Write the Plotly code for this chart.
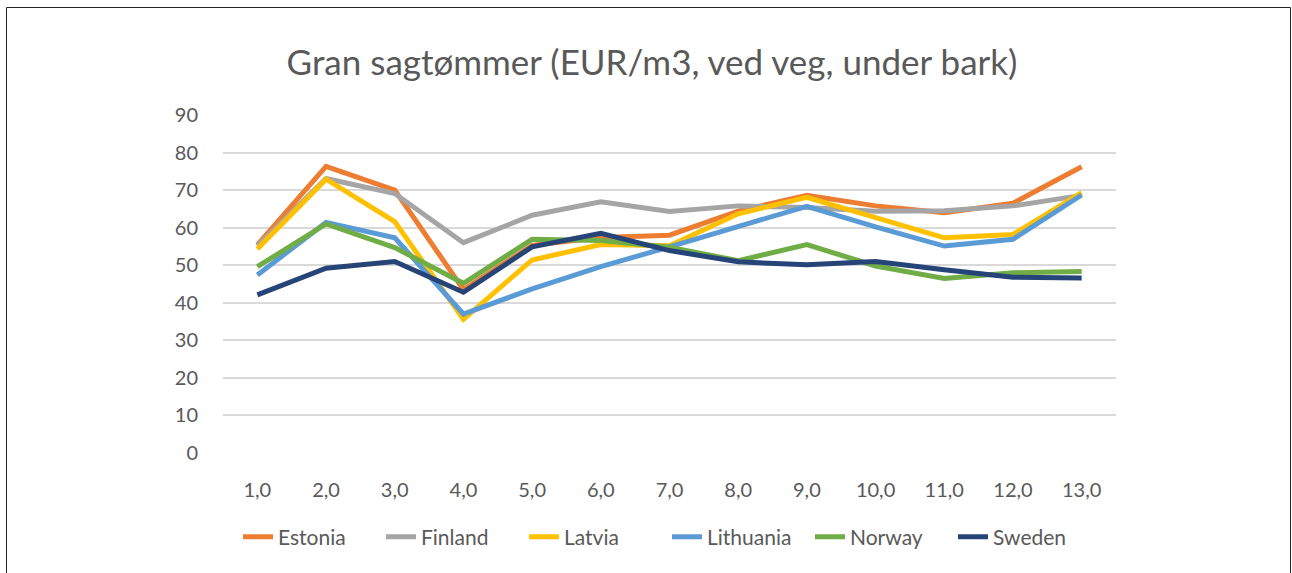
import plotly.graph_objects as go

x_vals = [1, 2, 3, 4, 5, 6, 7, 8, 9, 10, 11, 12, 13]
x_labels = ["1,0", "2,0", "3,0", "4,0", "5,0", "6,0", "7,0", "8,0", "9,0", "10,0", "11,0", "12,0", "13,0"]

estonia = [55.4, 76.3, 70.0, 43.5, 55.3, 57.4, 58.0, 64.4, 68.6, 65.8, 64.0, 66.5, 76.2]
finland = [55.1, 73.1, 69.1, 56.0, 63.3, 66.9, 64.3, 65.8, 65.4, 64.4, 64.5, 65.8, 68.6]
latvia = [54.3, 72.9, 61.6, 35.6, 51.4, 55.5, 55.2, 63.7, 68.1, 62.6, 57.3, 58.2, 69.3]
lithuania = [47.4, 61.4, 57.3, 37.0, 43.7, 49.6, 54.9, 60.3, 65.7, 60.2, 55.1, 56.9, 68.7]
norway = [49.6, 61.0, 54.7, 45.2, 56.9, 56.6, 54.8, 51.2, 55.5, 49.8, 46.5, 48.0, 48.3]
sweden = [42.1, 49.2, 51.0, 42.8, 54.9, 58.5, 53.9, 50.9, 50.1, 51.0, 48.8, 46.8, 46.6]

series = [
    ("Estonia", estonia, "#ED7D31"),
    ("Finland", finland, "#A5A5A5"),
    ("Latvia", latvia, "#FFC000"),
    ("Lithuania", lithuania, "#5B9BD5"),
    ("Norway", norway, "#70AD47"),
    ("Sweden", sweden, "#264478"),
]

FONT = "Lato, 'Open Sans', sans-serif"
TXT = "#595959"

fig = go.Figure()
for name, vals, col in series:
    fig.add_trace(go.Scatter(x=x_vals, y=vals, name=name, mode="lines",
                             line=dict(color=col, width=5)))

W, H = 1292, 573
L, R, T, B = 223, 176, 115, 120
pw, ph = W - L - R, H - T - B

fig.update_layout(
    width=W, height=H,
    margin=dict(l=L, r=R, t=T, b=B, pad=0),
    paper_bgcolor="white", plot_bgcolor="white",
    font=dict(family=FONT, color=TXT, size=20),
    title=dict(text="Gran sagtømmer (EUR/m3, ved veg, under bark)",
               x=652 / W, xanchor="center", y=1 - 63 / H, yanchor="middle",
               xref="container", yref="container",
               font=dict(size=35, color=TXT, family=FONT)),
    showlegend=True,
    legend=dict(orientation="h", x=(243 - L - 5) / pw, xanchor="left", y=-(537 - 453) / ph,
                yanchor="middle", font=dict(size=21, color=TXT), itemwidth=30,
                entrywidth=98, entrywidthmode="pixels",
                traceorder="normal"),
    xaxis=dict(range=[0.5, 13.5], tickmode="array", tickvals=x_vals, ticktext=x_labels,
               showgrid=False, zeroline=False, showline=False,
               ticks="outside", ticklen=19, tickcolor="rgba(0,0,0,0)",
               tickfont=dict(size=20, color=TXT), fixedrange=True),
    yaxis=dict(range=[0, 90], tickmode="linear", tick0=0, dtick=10,
               showgrid=True, gridcolor="#D9D9D9", gridwidth=1.5,
               zeroline=False, showline=False,
               ticks="outside", ticklen=20, tickcolor="rgba(0,0,0,0)",
               tickfont=dict(size=20, color=TXT), fixedrange=True),
    shapes=[dict(type="rect", xref="paper", yref="paper",
                 x0=(6.5 - L) / pw, x1=(1290.5 - L) / pw,
                 y0=(H - B - 580) / ph, y1=(H - B - 7.5) / ph,
                 line=dict(color="#262626", width=1), fillcolor="rgba(0,0,0,0)", layer="below")],
)

fig.write_html("out.html", config={"displayModeBar": False},
               post_script="document.body.style.margin='0';")
